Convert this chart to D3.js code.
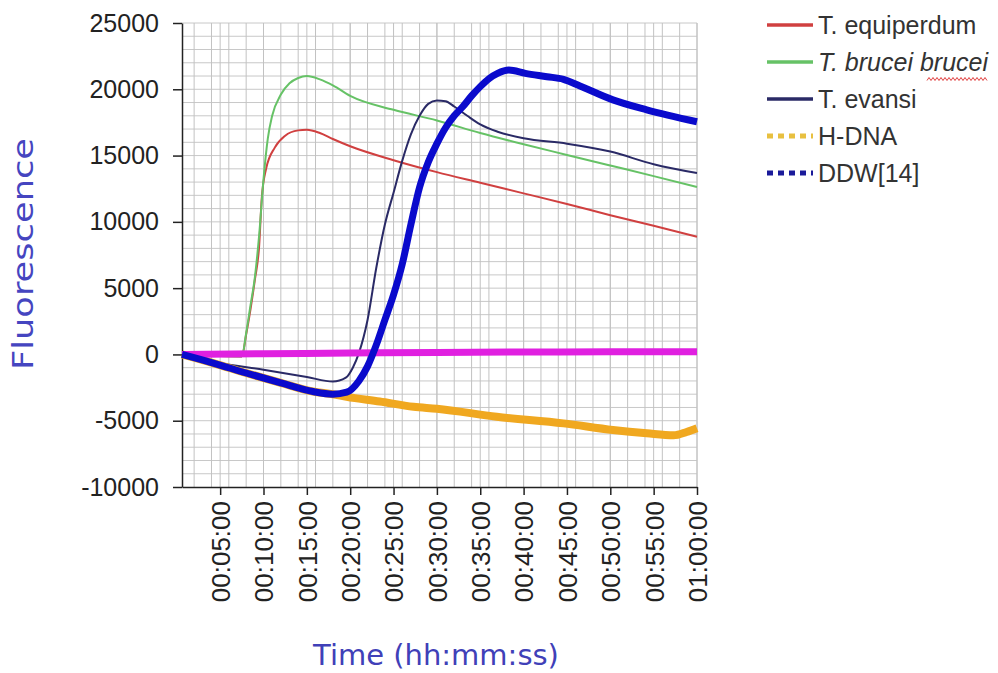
<html>
<head>
  <meta charset="utf-8" />
  <title>Fluorescence vs time</title>
  <style>
    body { margin: 0; background: white; }
    svg { display: block; }
    .tick text { font-family: "Liberation Sans", Arial, sans-serif; fill: #222; }
  </style>
  <script src="https://cdn.jsdelivr.net/npm/d3@7/dist/d3.min.js"></script>
</head>
<body>
<svg id="chart" width="998" height="673"></svg>
<script>
  // [minutes, fluorescence]
  var equiperdum = [[0.6, 0], [4, -100], [7.5, -150], [8, 1500], [8.5, 3400], [9, 5600], [9.5, 8200],
    [9.8, 11800], [10.3, 14000], [11.3, 15600], [12.5, 16500], [14, 16900], [15, 16950], [16.5, 16700],
    [18, 16250], [20, 15700], [25, 14650], [30, 13750], [35, 12950], [40, 12150], [45, 11350],
    [50, 10500], [55, 9700], [60, 8880]];
  var brucei = [[0.6, 0], [4, -100], [7.5, -150], [8, 1600], [8.5, 3700], [9, 5800], [9.5, 9000],
    [10, 13200], [10.5, 16300], [11, 18000], [12, 19600], [13, 20450], [14, 20850], [15, 21000],
    [16.5, 20750], [18, 20300], [20, 19500], [25, 18450], [30, 17650], [35, 16700], [40, 15850],
    [45, 15050], [50, 14250], [55, 13450], [60, 12630]];
  var evansi = [[0.6, 0], [5, -650], [10, -1150], [15, -1700], [18, -2050], [19.5, -1750],
    [20.3, -1000], [21, 100], [22, 2600], [23, 6500], [24, 9800], [25, 12200], [26, 14600],
    [27, 16600], [28, 18000], [29, 18900], [30, 19150], [31, 19100], [32, 18700], [33.5, 18000],
    [35, 17350], [37, 16800], [40, 16300], [45, 15900], [50, 15300], [55, 14350], [60, 13680]];
  var hdna = [[0.6, 0], [4.2, -650], [8, -1400], [12, -2150], [15.7, -2800], [18, -3000],
    [19.6, -3200], [23.4, -3550], [27.3, -3950], [30, -4100], [36.9, -4700], [44.6, -5200],
    [50.3, -5700], [54.2, -5950], [57.3, -6100], [58.8, -5850], [60, -5570]];
  var ddw = [[0.6, 0], [4.2, -650], [8, -1400], [12, -2150], [15.7, -2800], [18, -3000],
    [19.6, -2850], [21, -2000], [22, -900], [23, 700], [24, 2600], [25, 4500], [26, 6800],
    [27, 9800], [28, 12600], [29, 14500], [30, 15900], [31, 17100], [32, 18000], [33, 18700],
    [34, 19500], [35, 20200], [36, 20800], [37, 21200], [38.3, 21450], [40.2, 21200],
    [42.7, 20950], [44.6, 20750], [46.5, 20250], [50.3, 19200], [54.2, 18450], [60, 17550]];
  var unlabelled = [[0.6, 0], [10, 50], [20, 100], [30, 150], [40, 180], [50, 200], [60, 200]];

  var xTicks = [5, 10, 15, 20, 25, 30, 35, 40, 45, 50, 55, 60];
  var yTicks = [-10000, -5000, 0, 5000, 10000, 15000, 20000, 25000];
  var legendNames = ["T. equiperdum", "T. brucei brucei", "T. evansi", "H-DNA", "DDW[14]"];

  var svg = d3.select("#chart");
  var x = d3.scaleLinear().domain([0.6, 60]).range([182, 697]);
  var y = d3.scaleLinear().domain([-10000, 25000]).range([487, 23]);

  function fmt(m) {
    var h = Math.floor(m / 60), mm = m % 60;
    return d3.format("02")(h) + ":" + d3.format("02")(mm) + ":00";
  }

  // grid
  var g = svg.append("g");
  g.selectAll("line.hy").data(d3.range(-9000, 25001, 1000)).enter().append("line")
    .attr("x1", 182).attr("x2", 697)
    .attr("y1", function (d) { return y(d) }).attr("y2", function (d) { return y(d) })
    .style("stroke", "#c8c8c8").style("stroke-width", 1);
  g.selectAll("line.vx").data(d3.range(2, 61, 2).concat(xTicks)).enter().append("line")
    .attr("y1", 23).attr("y2", 487)
    .attr("x1", function (d) { return x(d) }).attr("x2", function (d) { return x(d) })
    .style("stroke", "#c2c2c2").style("stroke-width", 1);

  // axes
  var xAxis = svg.append("g").attr("transform", "translate(0,487)")
    .call(d3.axisBottom(x).tickValues(xTicks).tickFormat(fmt).tickSize(8).tickSizeOuter(0));
  xAxis.selectAll("text")
    .style("font-size", "26px")
    .attr("transform", "rotate(-90)")
    .attr("text-anchor", "end")
    .attr("x", -14).attr("y", 0).attr("dy", "0.36em");
  var yAxis = svg.append("g").attr("transform", "translate(182,0)")
    .call(d3.axisLeft(y).tickValues(yTicks).tickFormat(function (d) { return String(d) })
      .tickSize(9).tickSizeOuter(0).tickPadding(14));
  yAxis.selectAll("text").style("font-size", "25px");
  svg.selectAll(".domain, .tick line").style("stroke", "#222").style("stroke-width", 1.5);

  // series
  var line = d3.line()
    .x(function (d) { return x(d[0]) })
    .y(function (d) { return y(d[1]) })
    .curve(d3.curveMonotoneX);
  var series = [
    { data: equiperdum, color: "#d04040", w: 2 },
    { data: brucei, color: "#66c266", w: 2 },
    { data: evansi, color: "#2a2a66", w: 2 },
    { data: hdna, color: "#f0a820", w: 8 },
    { data: unlabelled, color: "#e020e0", w: 7 },
    { data: ddw, color: "#0a0acc", w: 7 }
  ];
  svg.selectAll("path.s").data(series).enter().append("path")
    .attr("d", function (d) { return line(d.data) })
    .style("fill", "none")
    .style("stroke", function (d) { return d.color })
    .style("stroke-width", function (d) { return d.w })
    .style("stroke-linejoin", "round");

  // axis titles
  svg.append("text").text("Fluorescence")
    .attr("transform", "translate(33,254) rotate(-90)")
    .attr("text-anchor", "middle")
    .attr("textLength", 232).attr("lengthAdjust", "spacingAndGlyphs")
    .style("font-family", "'DejaVu Sans', Verdana, sans-serif")
    .style("font-size", "29px").style("fill", "#4545c0");
  svg.append("text").text("Time (hh:mm:ss)")
    .attr("x", 436).attr("y", 665)
    .attr("text-anchor", "middle")
    .style("font-family", "'DejaVu Sans', Verdana, sans-serif")
    .style("font-size", "29px").style("fill", "#4040b8");

  // legend
  var legendColors = ["#d04040", "#66c266", "#2a2a66", "#e8c040", "#1a1a9a"];
  var lg = svg.selectAll("g.lg").data(legendNames).enter().append("g")
    .attr("transform", function (d, i) { return "translate(767," + (25 + i * 37) + ")" });
  lg.append("line")
    .attr("x1", 0).attr("x2", 46)
    .style("stroke", function (d, i) { return legendColors[i] })
    .style("stroke-width", function (d, i) { return i < 3 ? 3.5 : 5 })
    .style("stroke-dasharray", function (d, i) { return i < 3 ? null : "6,5" });
  lg.append("text").text(function (d) { return d })
    .attr("x", 51).attr("dy", "0.36em")
    .style("font-family", "'Liberation Sans', Arial, sans-serif")
    .style("font-size", "25px")
    .style("font-style", function (d, i) { return i == 1 ? "italic" : "normal" })
    .style("fill", "#333");
  // spell-check squiggle under the second "brucei"
  var sq = d3.range(0, 31).map(function (i) { return [927 + i * 2, 79 + (i % 2 ? -1.5 : 1.5)] });
  svg.append("path").attr("d", d3.line()(sq))
    .style("fill", "none").style("stroke", "#e04040").style("stroke-width", 1);
</script>
</body>
</html>
